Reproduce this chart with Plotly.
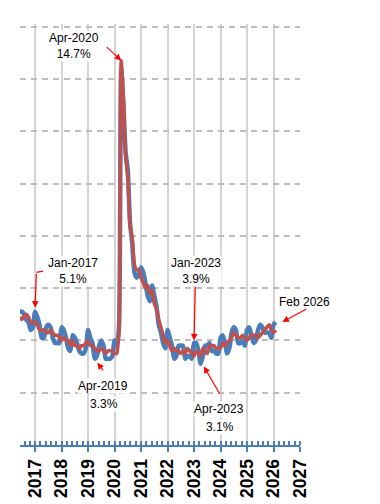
import plotly.graph_objects as go
import pandas as pd

# Monthly data, Jun 2016 - Feb 2026
start_month = "2016-06-01"
end_month = "2026-02-01"

nsa_rate = [
    5.1, 5.1, 5.0, 4.8, 4.7, 4.4, 4.5,
    5.1, 4.9, 4.6, 4.1, 4.1, 4.5, 4.6, 4.5, 4.1, 3.9, 3.9, 3.9,
    4.5, 4.4, 4.1, 3.7, 3.6, 4.2, 4.1, 3.9, 3.6, 3.5, 3.5, 3.7,
    4.4, 4.1, 3.9, 3.3, 3.4, 3.8, 4.0, 3.8, 3.3, 3.3, 3.3, 3.4,
    4.0, 3.8, 4.5, 14.4, 13.0, 11.2, 10.5, 8.5, 7.7, 6.6, 6.4, 6.5,
    6.8, 6.6, 6.2, 5.7, 5.5, 6.1, 5.7, 5.3, 4.6, 4.3, 3.9, 3.7,
    4.4, 4.1, 3.8, 3.3, 3.4, 3.8, 3.8, 3.8, 3.3, 3.4, 3.4, 3.3,
    3.9, 3.9, 3.6, 3.1, 3.4, 3.8, 3.8, 3.9, 3.6, 3.6, 3.5, 3.5,
    4.1, 4.2, 3.9, 3.5, 3.7, 4.3, 4.5, 4.4, 3.9, 3.9, 4.0, 3.8,
    4.4, 4.5, 4.2, 3.9, 4.0, 4.4, 4.6, 4.5, 4.3, 4.3, 4.3, 4.1,
    4.6, 4.7,
]

sa_rate = [
    4.9, 4.8, 4.9, 5.0, 4.9, 4.7, 4.7,
    4.7, 4.6, 4.4, 4.4, 4.4, 4.3, 4.3, 4.4, 4.3, 4.2, 4.2, 4.1,
    4.0, 4.1, 4.0, 4.0, 3.8, 4.0, 3.8, 3.8, 3.7, 3.8, 3.8, 3.9,
    4.0, 3.8, 3.8, 3.7, 3.6, 3.6, 3.7, 3.6, 3.5, 3.6, 3.6, 3.6,
    3.5, 3.5, 4.4, 14.7, 13.3, 11.1, 10.2, 8.4, 7.9, 6.9, 6.7, 6.7,
    6.4, 6.2, 6.0, 6.1, 5.8, 5.9, 5.4, 5.2, 4.8, 4.5, 4.2, 3.9,
    4.0, 3.8, 3.6, 3.7, 3.6, 3.6, 3.5, 3.6, 3.5, 3.7, 3.6, 3.5,
    3.4, 3.6, 3.5, 3.4, 3.7, 3.6, 3.5, 3.8, 3.8, 3.8, 3.7, 3.7,
    3.7, 3.9, 3.8, 3.9, 4.0, 4.1, 4.3, 4.2, 4.1, 4.1, 4.2, 4.1,
    4.0, 4.1, 4.2, 4.2, 4.2, 4.1, 4.2, 4.3, 4.4, 4.5, 4.6, 4.4,
    4.3, 4.4,
]

year_ticks = [2017, 2018, 2019, 2020, 2021, 2022, 2023, 2024, 2025, 2026, 2027]
year_labels = [str(y) for y in year_ticks]

months = pd.date_range(start_month, end_month, freq="MS")
x_dec = [d.year + (d.month - 1) / 12 for d in months]

BLUE = "#4a7ebb"
RED = "#c0504d"
ARROW = "#ff0000"
FONT = "Liberation Sans, Arial, sans-serif"

fig = go.Figure()
fig.add_trace(go.Scatter(x=x_dec, y=nsa_rate, mode="lines",
                         line=dict(color=BLUE, width=4.5, shape="spline", smoothing=0.6),
                         showlegend=False, hoverinfo="skip"))
fig.add_trace(go.Scatter(x=x_dec, y=sa_rate, mode="lines",
                         line=dict(color=RED, width=3.5, shape="spline", smoothing=0.6),
                         showlegend=False, hoverinfo="skip"))


def xof(year, month):
    return year + (month - 1) / 12


def val(series, year, month):
    idx = (year - 2016) * 12 + (month - 6)
    return series[idx]


def arrow(x, y, tx, ty, standoff=0):
    fig.add_annotation(x=x, y=y, ax=tx, ay=ty, axref="x", ayref="y",
                       xref="x", yref="y", text="", showarrow=True,
                       arrowhead=2, arrowsize=1.1, arrowwidth=1.2,
                       arrowcolor=ARROW, standoff=standoff)


def label(x, y, text, xref="x"):
    fig.add_annotation(x=x, y=y, xref=xref, yref="y", text=text, showarrow=False,
                       font=dict(family=FONT, size=12, color="black"),
                       bgcolor="white", borderpad=0)


# Apr-2020
label(2018.48, 15.27, "Apr-2020<br>14.7%")
arrow(xof(2020, 4), val(sa_rate, 2020, 4), 2019.65, 15.27)

# Jan-2017
label(2018.44, 6.64, "Jan-2017<br>5.1%")
arrow(xof(2017, 1), val(nsa_rate, 2017, 1) + 0.15, 2017.05, 6.6)
fig.add_shape(type="line", x0=2017.05, x1=2017.3, y0=6.6, y1=6.65,
              line=dict(color=ARROW, width=1.2))

# Apr-2019
label(2019.56, 2.25, "Apr-2019")
label(2019.6, 1.57, "3.3%")
arrow(xof(2019, 4) + 0.1, val(nsa_rate, 2019, 4) - 0.15, 2019.61, 2.8)

# Jan-2023
label(2023.06, 6.64, "Jan-2023<br>3.9%")
arrow(xof(2023, 1), val(nsa_rate, 2023, 1) + 0.1, 2023.05, 6.1)

# Apr-2023
label(2023.93, 1.37, "Apr-2023")
label(2023.97, 0.69, "3.1%")
arrow(xof(2023, 4) + 0.12, val(nsa_rate, 2023, 4) - 0.1, 2024.0, 1.9)

# Feb 2026
label(1.111, 5.46, "Feb 2026", xref="paper")
arrow(xof(2026, 2) + 0.25, val(nsa_rate, 2026, 2), 2027.3, 5.23)

fig.update_xaxes(
    range=[2016.43, 2027.0],
    tickmode="array", tickvals=year_ticks, ticktext=year_labels,
    tickangle=-90,
    tickfont=dict(family=FONT, size=17.5, color="black", weight="bold"),
    showgrid=True, gridcolor="#d4d4d4", gridwidth=1.5,
    showline=True, linecolor=BLUE, linewidth=2,
    ticks="outside", ticklen=5, tickcolor=BLUE, tickwidth=2,
    minor=dict(dtick=0.2, tick0=2017, ticks="inside", ticklen=4,
               tickcolor=BLUE, tickwidth=1.5, showgrid=False),
    zeroline=False, automargin=False,
)
fig.update_yaxes(
    range=[0, 16.1], dtick=2, tick0=0,
    showticklabels=False, ticks="",
    showgrid=True, gridcolor="#bdbdbd", gridwidth=2, griddash="6px,5px",
    showline=False, zeroline=False, automargin=False,
)

# page body has an 8px default margin; compensate so the plot area lands where the reference has it
fig.update_layout(
    width=372, height=496,
    margin=dict(l=12, r=80, t=16, b=59),
    paper_bgcolor="white", plot_bgcolor="white",
    font=dict(family=FONT),
)

fig.write_html("out.html")
